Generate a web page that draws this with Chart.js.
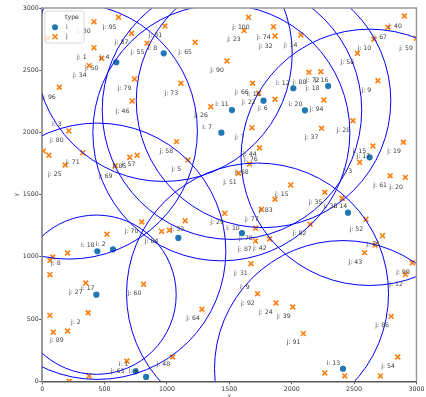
<!DOCTYPE html>
<html>
<head>
<meta charset="utf-8">
<script src="https://cdn.jsdelivr.net/npm/chart.js@4/dist/chart.umd.min.js"></script>
<style>
  html, body { margin: 0; padding: 0; background: #fff; }
  #wrap { width: 426px; height: 397px; }
</style>
</head>
<body>
<div id="wrap"><canvas id="chart" width="426" height="397"></canvas></div>
<script>
// facilities (type i)
var iX = [594, 974, 2013, 2292, 1774, 1521, 2106, 1436, 2624, 2451, 1601, 1091, 442, 567, 434, 748, 833, 2411];
var iY = [2564, 2636, 2355, 2373, 2255, 2180, 2178, 1998, 1800, 1355, 1192, 1152, 1045, 1061, 696, 80, 35, 101];

// customers (type j)
var jX = [612, 415, 44, 984, 716, 841, 415, 477, 376, 1226, 740, 1112, 137, 721, 1351, 214, 9, 54, 325, 184,
          1077, 1168, 702, 761, 586,
          1654, 1619, 1854, 1866, 2074, 1481, 2903, 2770, 2659, 2526, 2138, 2233, 1686, 1734, 1866, 2257, 2691,
          1681, 2239, 2491, 1742, 1662, 2651, 2895, 2544, 2789, 2911, 1992, 2265, 1866, 2404, 1574, 2999,
          1758, 1463, 1146, 1710, 1822, 1710, 2148,
          2595, 2728, 2667,
          2584, 2967, 2911, 1673, 1726, 1874, 2008, 2797, 2093, 2850, 2265, 2425, 2711,
          798, 519, 957, 1019, 203, 62, 84, 62, 349, 812, 62, 368, 89, 203, 1280, 679, 1045, 376, 216];
var jY = [2925, 2890, 2757, 2855, 2797, 2716, 2681, 2596, 2537, 2724, 2430, 2395, 2363, 2253, 2207, 2012, 1851, 1816, 1837, 1738,
          1926, 1778, 1800, 1816, 1733,
          2925, 2818, 2850, 2775, 2783, 2574, 2936, 2845, 2749, 2636, 2483, 2488, 2395, 2315, 2266, 2261, 2416,
          2038, 2033, 2094, 1877, 1746, 1891, 1921, 1760, 1652, 1639, 1578, 1519, 1463, 1471, 1672, 2757,
          1382, 1350, 1291, 1230, 1144, 1128, 1262,
          1302, 1170, 1095,
          1034, 953, 860, 945, 704, 629, 597, 522, 383, 195, 67, 43, 43,
          1280, 1181, 1205, 1214, 1031, 972, 999, 857, 790, 780, 530, 551, 394, 404, 579, 163, 195, 43, 0];

// coverage circles (centre and radius, data units)
var circleX = [214, 1436, 974, 1726, 1521, 2411, 2624, 1774, 434, 442];
var circleY = [2012, 1998, 2636, 704, 2180, 101, 1800, 2255, 696, 1045];
var circleR = [1030, 1030, 1030, 1050, 1040, 1030, 1030, 1020, 640, 1030];

// axis ticks
var tickValues = [0, 500, 1000, 1500, 2000, 2500, 3000];

// point labels
var labelText = ['j: 30', 'j: 95', 'j: 87', 'j: 81', 'i: 8', 'j: 55', 'j: 1', 'j: 4', 'j: 50', 'j: 34',
                 'j: 96', 'j: 79', 'j: 46', 'j: 73', 'j: 65', 'i: 3', 'j: 80', 'j: 71', 'j: 25', 'j: 85',
                 'j: 57', 'j: 69', 'j: 58', 'j: 5', 'j: 100', 'j: 23', 'j: 74', 'j: 32', 'j: 14', 'j: 90',
                 'j: 66', 'i: 16', 'j: 22', 'j: 6', 'i: 11', 'i: 12', 'j: 88', 'j: 72', 'j: 16', 'j: 18',
                 'i: 20', 'j: 94', 'j: 26', 'i: 7', 'j: 7', 'j: 37', 'j: 28', 'j: 9', 'j: 10', 'j: 56',
                 'j: 67', 'j: 40', 'j: 59', 'j: 44', 'j: 76', 'j: 68', 'j: 51', 'j: 15', 'j: 3', 'i: 15',
                 'j: 17', 'j: 19', 'j: 61', 'j: 20', 'j: 35', 'j: 38', 'i: 14', 'j: 82', 'j: 52', 'j: 75',
                 'j: 43', 'j: 99', 'j: 12', 'j: 86', 'j: 54', 'i: 13', 'j: 91', 'j: 39', 'j: 24', 'j: 92',
                 'i: 9', 'j: 31', 'j: 87', 'j: 42', 'j: 78', 'i: 10', 'j: 77', 'j: 83', 'j: 29', 'j: 33',
                 'j: 84', 'j: 70', 'i: 18', 'i: 2', 'j: 8', 'j: 27', 'i: 17', 'j: 60', 'j: 2', 'j: 89',
                 'j: 64', 'j: 48', 'i: 1', 'j: 63', 'i: 6'];
var labelX = [333, 541, 636, 907, 883, 764, 317, 501, 397, 301,
              54, 660, 644, 1035, 1146, 118, 118, 246, 102, 620,
              692, 509, 995, 1075, 1593, 1537, 1776, 1792, 1992, 1401,
              1601, 1697, 1657, 1768, 1441, 1928, 2063, 2168, 2240, 2168,
              2031, 2199, 1274, 1322, 1585, 2159, 2414, 2598, 2582, 2446,
              2709, 2829, 2916, 1665, 1673, 1601, 1505, 1920, 2446, 2542,
              2574, 2821, 2709, 2837, 2191, 2311, 2390, 2063, 2518, 2653,
              2510, 2892, 2837, 2725, 2773, 2334, 2015, 1936, 1792, 1649,
              1625, 1593, 1625, 1745, 1633, 1529, 1681, 1792, 1401, 1083,
              876, 716, 365, 469, 110, 269, 365, 740, 269, 118,
              1210, 971, 652, 604, 732];
var labelY = [2815, 2847, 2727, 2783, 2679, 2647, 2606, 2606, 2518, 2462,
              2285, 2357, 2172, 2317, 2647, 2068, 1940, 1762, 1666, 1730,
              1746, 1650, 1851, 1706, 2847, 2751, 2767, 2695, 2703, 2502,
              2325, 2309, 2245, 2197, 2229, 2397, 2406, 2421, 2421, 2355,
              2229, 2188, 2133, 2044, 1964, 1964, 2020, 2341, 2679, 2566,
              2767, 2856, 2679, 1827, 1787, 1675, 1602, 1506, 1683, 1851,
              1811, 1851, 1578, 1562, 1441, 1409, 1409, 1192, 1224, 1103,
              959, 878, 782, 453, 123, 147, 309, 525, 557, 629,
              758, 870, 1063, 1071, 1152, 1232, 1304, 1377, 1280, 1224,
              1128, 1208, 1095, 1103, 951, 718, 750, 710, 477, 332,
              509, 132, 132, 83, 83];

var FONT = '"DejaVu Sans", "Liberation Sans", sans-serif';

function toPoints(xs, ys) {
    return xs.map(function (x, k) { return { x: x, y: ys[k] }; });
}

// fixed tick positions
function setTicks(scale) {
    scale.ticks = tickValues.map(function (v) { return { value: v }; });
}

// plain numbers, no thousands separator
function plainLabel(value) {
    return String(value);
}

// circles, labels, extra spines, legend and axis titles
var overlay = {
    id: 'overlay',
    afterDatasetsDraw: function (chart) {
        var ctx = chart.ctx;
        var area = chart.chartArea;
        var xs = chart.scales.x, ys = chart.scales.y;

        ctx.save();
        ctx.beginPath();
        ctx.rect(area.left, area.top, area.right - area.left, area.bottom - area.top);
        ctx.clip();
        ctx.strokeStyle = '#0000ff';
        ctx.lineWidth = 1;
        for (var k = 0; k < circleX.length; k++) {
            var cx = xs.getPixelForValue(circleX[k]);
            var cy = ys.getPixelForValue(circleY[k]);
            var rx = xs.getPixelForValue(circleX[k] + circleR[k]) - cx;
            var ry = cy - ys.getPixelForValue(circleY[k] + circleR[k]);
            ctx.beginPath();
            ctx.ellipse(cx, cy, rx, ry, 0, 0, 2 * Math.PI);
            ctx.stroke();
        }

        ctx.font = '6.2px ' + FONT;
        ctx.fillStyle = '#3c3c3c';
        ctx.textAlign = 'center';
        ctx.textBaseline = 'middle';
        for (var n = 0; n < labelText.length; n++) {
            ctx.fillText(labelText[n], xs.getPixelForValue(labelX[n]), ys.getPixelForValue(labelY[n]));
        }
        ctx.restore();
    },
    afterDraw: function (chart) {
        var ctx = chart.ctx;
        var area = chart.chartArea;
        ctx.save();

        // top and right spines
        ctx.strokeStyle = '#999999';
        ctx.lineWidth = 1.5;
        ctx.beginPath();
        ctx.moveTo(area.left, area.top);
        ctx.lineTo(area.right, area.top);
        ctx.lineTo(area.right, area.bottom);
        ctx.stroke();

        // legend
        ctx.fillStyle = 'rgba(255,255,255,0.8)';
        ctx.strokeStyle = '#d0d0d0';
        ctx.lineWidth = 0.8;
        ctx.beginPath();
        ctx.roundRect(45, 11, 39, 32, 2);
        ctx.fill();
        ctx.stroke();

        ctx.font = '6.2px ' + FONT;
        ctx.fillStyle = '#333333';
        ctx.textBaseline = 'middle';
        ctx.textAlign = 'center';
        ctx.fillText('type', 72, 17.5);
        ctx.textAlign = 'left';
        ctx.fillText('i', 66, 27.3);
        ctx.fillText('j', 66, 36.7);

        ctx.fillStyle = '#1f77b4';
        ctx.beginPath();
        ctx.arc(55, 27.3, 3, 0, 2 * Math.PI);
        ctx.fill();

        ctx.strokeStyle = '#ff7f0e';
        ctx.lineWidth = 1.6;
        ctx.beginPath();
        ctx.moveTo(52.5, 34.2); ctx.lineTo(57.5, 39.2);
        ctx.moveTo(57.5, 34.2); ctx.lineTo(52.5, 39.2);
        ctx.stroke();

        // axis titles
        ctx.fillStyle = '#555555';
        ctx.font = '6.2px ' + FONT;
        ctx.textAlign = 'center';
        ctx.textBaseline = 'top';
        ctx.fillText('x', (area.left + area.right) / 2, 393);
        ctx.translate(16, (area.top + area.bottom) / 2);
        ctx.rotate(-Math.PI / 2);
        ctx.textBaseline = 'middle';
        ctx.fillText('y', 0, 0);
        ctx.restore();
    }
};

var ctx = document.getElementById('chart').getContext('2d');
var chart = new Chart(ctx, {
    type: 'scatter',
    data: {
        datasets: [{
            label: 'i',
            data: toPoints(iX, iY),
            pointStyle: 'circle',
            pointRadius: 3.1,
            pointBackgroundColor: '#1f77b4',
            pointBorderWidth: 0
        }, {
            label: 'j',
            data: toPoints(jX, jY),
            pointStyle: 'crossRot',
            pointRadius: 3.4,
            pointBorderColor: '#ff7f0e',
            pointBorderWidth: 1.6
        }]
    },
    options: {
        responsive: false,
        animation: false,
        devicePixelRatio: 1,
        layout: { padding: { top: 8, right: 7, left: 0, bottom: 0 } },
        plugins: {
            legend: { display: false },
            tooltip: { enabled: false }
        },
        scales: {
            x: {
                type: 'linear',
                min: 0,
                max: 3000,
                afterBuildTicks: setTicks,
                ticks: { callback: plainLabel, color: '#333333', padding: 1.5, maxRotation: 0, font: { size: 6.3, family: FONT } },
                grid: { drawOnChartArea: false, tickLength: 3, color: '#555555' },
                border: { color: '#555555', width: 1.5 },
                afterFit: function (scale) { scale.height = 15.7; }
            },
            y: {
                type: 'linear',
                min: 0,
                max: 3000,
                afterBuildTicks: setTicks,
                ticks: { callback: plainLabel, color: '#333333', padding: 0.5, font: { size: 6.3, family: FONT } },
                grid: { drawOnChartArea: false, tickLength: 3, color: '#555555' },
                border: { color: '#999999', width: 2 },
                afterFit: function (scale) { scale.width = 42.2; }
            }
        }
    },
    plugins: [overlay]
});
</script>
</body>
</html>
